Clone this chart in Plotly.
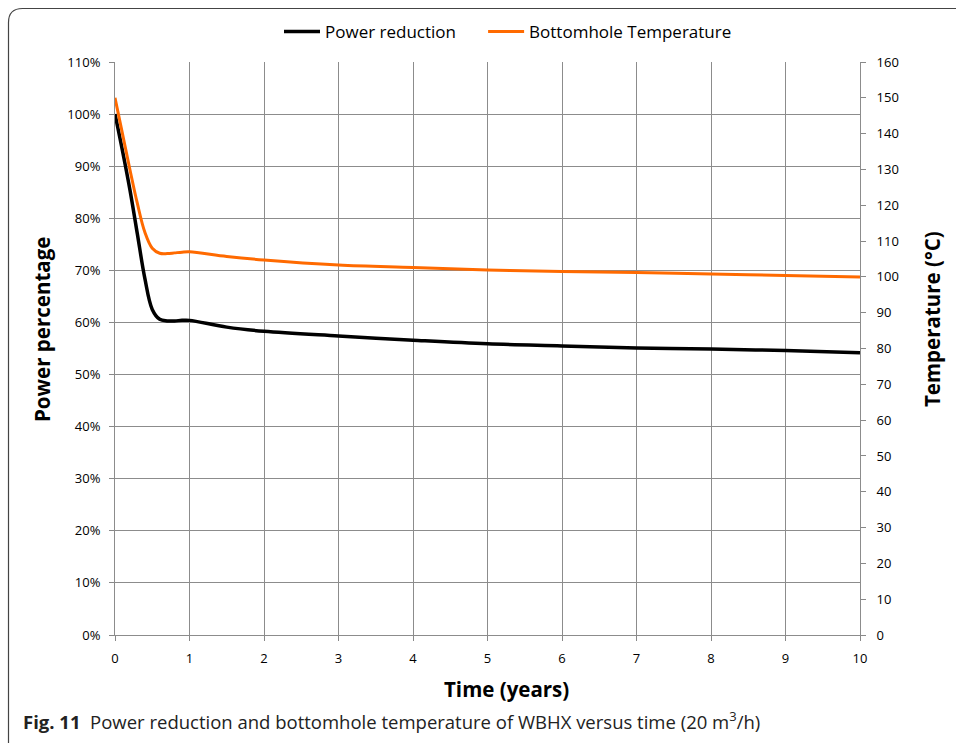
import plotly.graph_objects as go

years = [0, 0.1, 0.2, 0.3, 0.4, 0.5, 0.6, 0.7, 0.8, 0.9, 1.0, 1.5, 2, 3, 4, 5, 6, 7, 8, 9, 10]
power_pct = [100, 93, 85.5, 77, 68.5, 62.5, 60.6, 60.3, 60.3, 60.4, 60.4, 59.1, 58.3, 57.4, 56.6, 55.9, 55.5, 55.1, 54.9, 54.6, 54.2]
temp_c = [150, 140, 130, 120.5, 112.5, 108, 106.6, 106.5, 106.7, 106.9, 107.0, 105.7, 104.7, 103.3, 102.6, 101.9, 101.5, 101.2, 100.8, 100.4, 100.0]

left_ticks = list(range(0, 111, 10))
left_labels = [f"{v}%" for v in left_ticks]
right_ticks = list(range(0, 161, 10))
x_ticks = list(range(0, 11))

W, H = 956, 743
L, R, T, B = 115, 96, 62, 108
pw, ph = W - L - R, H - T - B


def px(x):
    return (x - L) / pw


def py(y):
    return (H - B - y) / ph


NB = "\u00a0"
fig = go.Figure()
fig.add_trace(go.Scatter(x=years, y=power_pct, mode="lines", name="Power reduction" + NB * 5,
                         line=dict(color="#000000", width=3.5, shape="spline", smoothing=1.0)))
fig.add_trace(go.Scatter(x=years, y=temp_c, mode="lines", name="Bottomhole Temperature", yaxis="y2",
                         line=dict(color="#FF6A00", width=3, shape="spline", smoothing=1.0)))

tickfont = dict(family="Open Sans", size=13, color="#000000")
titlefont = dict(family="Open Sans", size=20.5, color="#000000")
fig.update_layout(
    width=W, height=H,
    margin=dict(l=L, r=R, t=T, b=B, pad=0),
    paper_bgcolor="white", plot_bgcolor="white",
    font=dict(family="Open Sans", color="#000000"),
    showlegend=True,
    legend=dict(orientation="h", x=px(508), xanchor="center", y=py(32), yanchor="middle",
                font=dict(family="Open Sans", size=17, color="#000000"),
                itemwidth=36, tracegroupgap=0, bgcolor="rgba(0,0,0,0)"),
    xaxis=dict(range=[0, 10], tickvals=x_ticks, ticks="outside", ticklen=5, tickcolor="#888888",
               ticklabelstandoff=6,
               showgrid=True, gridcolor="#8c8c8c", gridwidth=1, zeroline=False,
               showline=True, linecolor="#8c8c8c", linewidth=1, tickfont=tickfont),
    yaxis=dict(range=[0, 110], tickvals=left_ticks, ticktext=left_labels, ticks="outside", ticklen=5,
               ticklabelstandoff=6,
               tickcolor="#888888", showgrid=True, gridcolor="#8c8c8c", gridwidth=1, zeroline=False,
               showline=True, linecolor="#8c8c8c", linewidth=1, tickfont=tickfont),
    yaxis2=dict(range=[0, 160], tickvals=right_ticks, overlaying="y", side="right", ticks="outside",
                ticklabelstandoff=8,
                ticklen=5, tickcolor="#888888", showgrid=False, zeroline=False,
                showline=True, linecolor="#8c8c8c", linewidth=1, tickfont=tickfont),
)

# axis titles placed as in the reference
fig.add_annotation(xref="paper", yref="paper", x=px(506), y=py(689), xanchor="center", yanchor="middle",
                   showarrow=False, text="<b>Time (years)</b>", font=titlefont)
fig.add_annotation(xref="paper", yref="paper", x=px(42), y=py(330), xanchor="center", yanchor="middle",
                   showarrow=False, text="<b>Power percentage</b>", font=titlefont, textangle=-90)
fig.add_annotation(xref="paper", yref="paper", x=px(932), y=py(319), xanchor="center", yanchor="middle",
                   showarrow=False, text="<b>Temperature (°C)</b>", font=titlefont, textangle=-90)

r = 14
x0, y0 = 8.5, 8.5
path = (f"M {px(x0)} {py(H + 20)} L {px(x0)} {py(y0 + r)} "
        f"Q {px(x0)} {py(y0)} {px(x0 + r)} {py(y0)} L {px(W + 20)} {py(y0)}")
fig.add_shape(type="path", xref="paper", yref="paper", path=path,
              line=dict(color="#444444", width=1.2), layer="above")

fig.add_annotation(xref="paper", yref="paper", x=px(21), y=py(720), xanchor="left", yanchor="middle",
                   showarrow=False,
                   text="<b>Fig. 11</b>  Power reduction and bottomhole temperature of WBHX versus time (20 m<sup>3</sup>/h)",
                   font=dict(family="Open Sans", size=18.5, color="#222222"))

fig.write_html("out.html", post_script="document.body.style.margin='0';",
               config={"displayModeBar": False})
